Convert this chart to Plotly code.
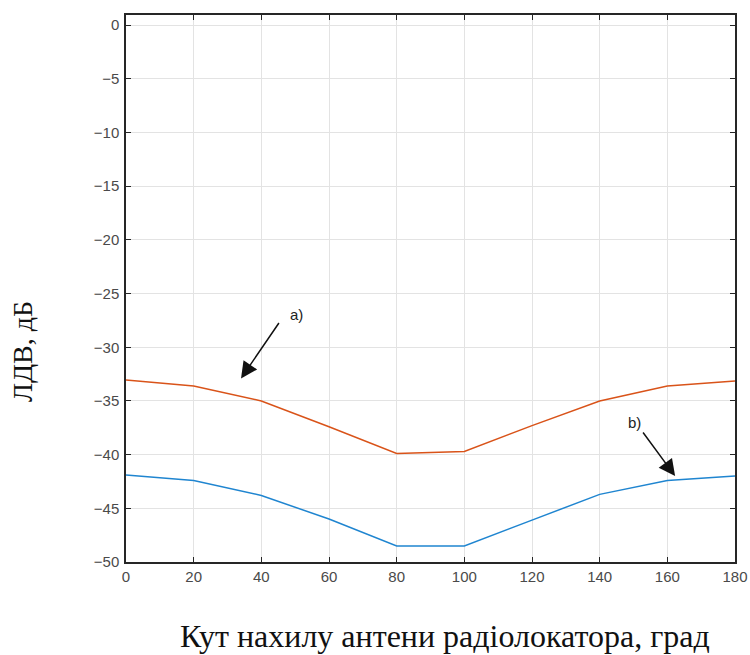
import plotly.graph_objects as go

angles = [0, 20, 40, 60, 80, 100, 120, 140, 160, 180]
series_a = [-33.05, -33.6, -35.0, -37.4, -39.9, -39.7, -37.3, -35.0, -33.6, -33.15]
series_b = [-41.9, -42.4, -43.8, -46.0, -48.5, -48.5, -46.1, -43.7, -42.4, -42.0]
x_ticks = [0, 20, 40, 60, 80, 100, 120, 140, 160, 180]
y_ticks = [0, -5, -10, -15, -20, -25, -30, -35, -40, -45, -50]
x_title = "Кут нахилу антени радіолокатора, град"
y_title = "ЛДВ, дБ"

fig = go.Figure()
fig.add_trace(go.Scatter(x=angles, y=series_a, mode="lines",
                         line=dict(color="#D95319", width=1.5), showlegend=False))
fig.add_trace(go.Scatter(x=angles, y=series_b, mode="lines",
                         line=dict(color="#1f85d0", width=1.5), showlegend=False))

axis_common = dict(showline=True, linecolor="#262626", linewidth=1.5, mirror="ticks",
                   ticks="inside", ticklen=5, tickcolor="#262626", tickwidth=1,
                   showgrid=True, gridcolor="#e3e3e3", gridwidth=1, zeroline=False,
                   automargin=False,
                   tickfont=dict(family="Liberation Sans, Arial", size=15, color="#4a4a4a"))

fig.update_xaxes(range=[0, 180], tickvals=x_ticks, **axis_common)
fig.update_yaxes(range=[-50, 0.95], tickvals=y_ticks, ticklabelstandoff=2, **axis_common)

title_font = dict(family="Liberation Serif, Times New Roman", color="#111111")
fig.add_annotation(xref="paper", yref="paper", x=0.524, y=-0.135, text=x_title,
                   showarrow=False, xanchor="center", yanchor="middle",
                   font=dict(size=32, **title_font))
fig.add_annotation(xref="paper", yref="paper", x=-0.169, y=0.384, text=y_title,
                   showarrow=False, xanchor="center", yanchor="middle", textangle=-90,
                   font=dict(size=28, **title_font))

# arrows
fig.add_annotation(x=34.0, y=-32.9, ax=45.5, ay=-27.6, axref="x", ayref="y",
                   text="", showarrow=True, arrowhead=2, arrowsize=2.2, arrowwidth=1.5,
                   arrowcolor="#111111", standoff=0, startstandoff=0)
fig.add_annotation(x=162.3, y=-42.0, ax=152.5, ay=-37.8, axref="x", ayref="y",
                   text="", showarrow=True, arrowhead=2, arrowsize=2.2, arrowwidth=1.5,
                   arrowcolor="#111111", standoff=0, startstandoff=0)
fig.add_annotation(x=50.5, y=-26.9, text="a)", showarrow=False,
                   font=dict(family="Liberation Sans, Arial", size=15, color="#222222"))
fig.add_annotation(x=150.3, y=-37.0, text="b)", showarrow=False,
                   font=dict(family="Liberation Sans, Arial", size=15, color="#222222"))

fig.update_layout(width=750, height=655, margin=dict(l=126, r=15, t=15, b=93),
                  plot_bgcolor="white", paper_bgcolor="white")

fig.write_html("out.html")
